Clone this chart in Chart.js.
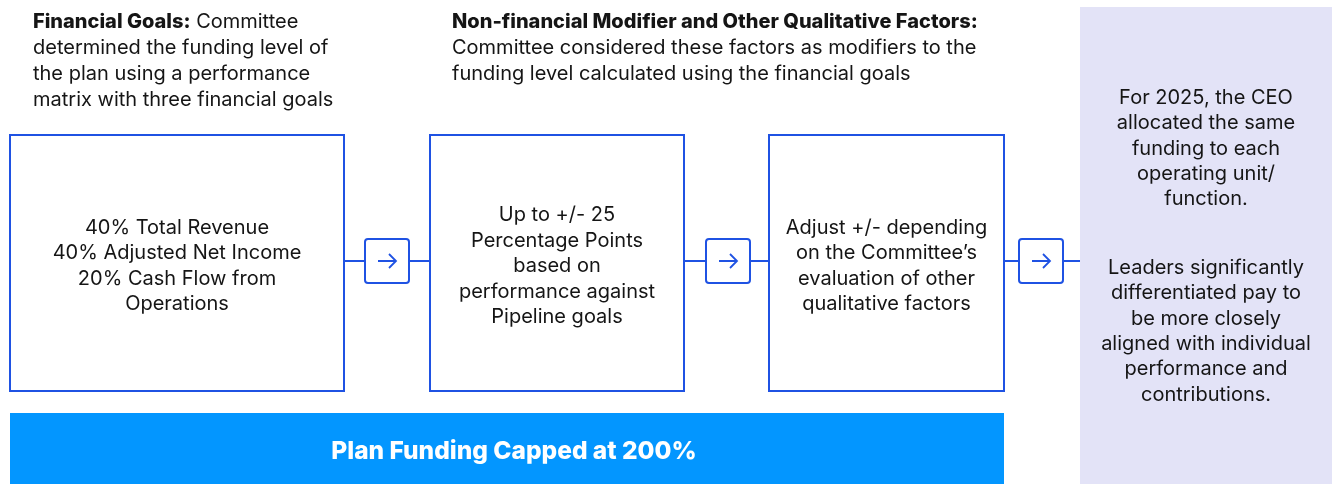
<!DOCTYPE html>
<html>
<head>
<meta charset="utf-8">
<script src="https://cdn.jsdelivr.net/npm/chart.js@4"></script>
<style>
  html, body { margin: 0; padding: 0; background: #fff; }
  #wrap { width: 1332px; height: 484px; }
</style>
</head>
<body>
<div id="wrap"><canvas id="flow" width="1332" height="484"></canvas></div>
<script>
// Text content of the diagram
const headingBold = ['Financial Goals:', 'Non-financial Modifier and Other Qualitative Factors:'];
const headingLines = [
  [' Committee', 'determined the funding level of', 'the plan using a performance', 'matrix with three financial goals'],
  ['', 'Committee considered these factors as modifiers to the', 'funding level calculated using the financial goals']
];
const stepLines = [
  ['40% Total Revenue', '40% Adjusted Net Income', '20% Cash Flow from', 'Operations'],
  ['Up to +/- 25', 'Percentage Points', 'based on', 'performance against', 'Pipeline goals'],
  ['Adjust +/- depending', 'on the Committee\u2019s', 'evaluation of other', 'qualitative factors']
];
const capLabel = 'Plan Funding Capped at 200%';
const noteLines = [
  ['For 2025, the CEO', 'allocated the same', 'funding to each', 'operating unit/', 'function.'],
  ['Leaders significantly', 'differentiated pay to', 'be more closely', 'aligned with individual', 'performance and', 'contributions.']
];

// Layout (diagram units, same as pixels)
const stepBoxes = [[10, 344], [430, 684], [769, 1004]];
const boxTop = 135, boxBottom = 391;
const arrowBoxes = [[365, 409], [706, 750], [1019, 1063]];
const linkY = 261;
const blue = '#1f52e3';
const ink = '#151515';
const fontName = 'Inter, "Noto Sans", sans-serif';

const diagram = {
  id: 'diagram',
  afterDraw(chart) {
    const ctx = chart.ctx;
    const sx = chart.scales.x, sy = chart.scales.y;
    const X = v => sx.getPixelForValue(v);
    const Y = v => sy.getPixelForValue(v);
    ctx.save();

    // right note panel
    ctx.fillStyle = '#e3e3f7';
    ctx.fillRect(X(1080), Y(7), X(1332) - X(1080), Y(484) - Y(7));

    // cap banner
    ctx.fillStyle = '#0396ff';
    ctx.fillRect(X(10), Y(413), X(1004) - X(10), Y(484) - Y(413));
    ctx.fillStyle = '#fff';
    ctx.font = '800 24.5px ' + fontName;
    ctx.textAlign = 'center';
    ctx.textBaseline = 'middle';
    ctx.fillText(capLabel, X(514), Y(452));

    // connector line
    ctx.strokeStyle = blue;
    ctx.lineWidth = 2;
    ctx.beginPath();
    ctx.moveTo(X(344), Y(linkY));
    ctx.lineTo(X(1080), Y(linkY));
    ctx.stroke();

    // step boxes
    stepBoxes.forEach(([a, b], i) => {
      ctx.fillStyle = '#fff';
      ctx.fillRect(X(a), Y(boxTop), X(b) - X(a), Y(boxBottom) - Y(boxTop));
      ctx.strokeRect(X(a), Y(boxTop), X(b) - X(a), Y(boxBottom) - Y(boxTop));
      const lines = stepLines[i];
      const lh = 25.5;
      const cy = (boxTop + boxBottom) / 2 + 3;
      ctx.fillStyle = ink;
      ctx.font = '20px ' + fontName;
      ctx.textAlign = 'center';
      lines.forEach((t, k) => {
        ctx.fillText(t, X((a + b) / 2), Y(cy + (k - (lines.length - 1) / 2) * lh));
      });
    });

    // arrow boxes
    arrowBoxes.forEach(([a, b]) => {
      const t = linkY - 22, h = 44;
      ctx.fillStyle = '#fff';
      ctx.beginPath();
      ctx.roundRect(X(a), Y(t), X(b) - X(a), Y(t + h) - Y(t), 3);
      ctx.fill();
      ctx.stroke();
      const cx = X((a + b) / 2), cy = Y(linkY);
      ctx.lineWidth = 1.8;
      ctx.beginPath();
      ctx.moveTo(cx - 9, cy);
      ctx.lineTo(cx + 9, cy);
      ctx.moveTo(cx + 2, cy - 7);
      ctx.lineTo(cx + 9, cy);
      ctx.lineTo(cx + 2, cy + 7);
      ctx.stroke();
      ctx.lineWidth = 2;
    });

    // headings
    const heads = [33, 452];
    ctx.textAlign = 'left';
    ctx.textBaseline = 'middle';
    heads.forEach((hx, i) => {
      ctx.fillStyle = ink;
      ctx.font = '800 20px ' + fontName;
      ctx.fillText(headingBold[i], X(hx), Y(22));
      const bw = ctx.measureText(headingBold[i]).width;
      ctx.font = '20px ' + fontName;
      headingLines[i].forEach((t, k) => {
        if (k === 0) ctx.fillText(t, X(hx) + bw, Y(22));
        else ctx.fillText(t, X(hx), Y(22 + k * 26));
      });
    });

    // note text
    ctx.textAlign = 'center';
    ctx.font = '20px ' + fontName;
    const noteStarts = [98, 268];
    noteLines.forEach((lines, i) => {
      lines.forEach((t, k) => {
        ctx.fillText(t, X(1206), Y(noteStarts[i] + k * 25.3));
      });
    });

    ctx.restore();
  }
};

new Chart(document.getElementById('flow'), {
  type: 'scatter',
  data: { datasets: [{ data: [], pointRadius: 0 }] },
  options: {
    responsive: false,
    animation: false,
    layout: { padding: 0 },
    plugins: { legend: { display: false }, tooltip: { enabled: false } },
    scales: {
      x: { type: 'linear', min: 0, max: 1332, display: false },
      y: { type: 'linear', min: 0, max: 484, reverse: true, display: false }
    }
  },
  plugins: [diagram]
});
</script>
</body>
</html>
